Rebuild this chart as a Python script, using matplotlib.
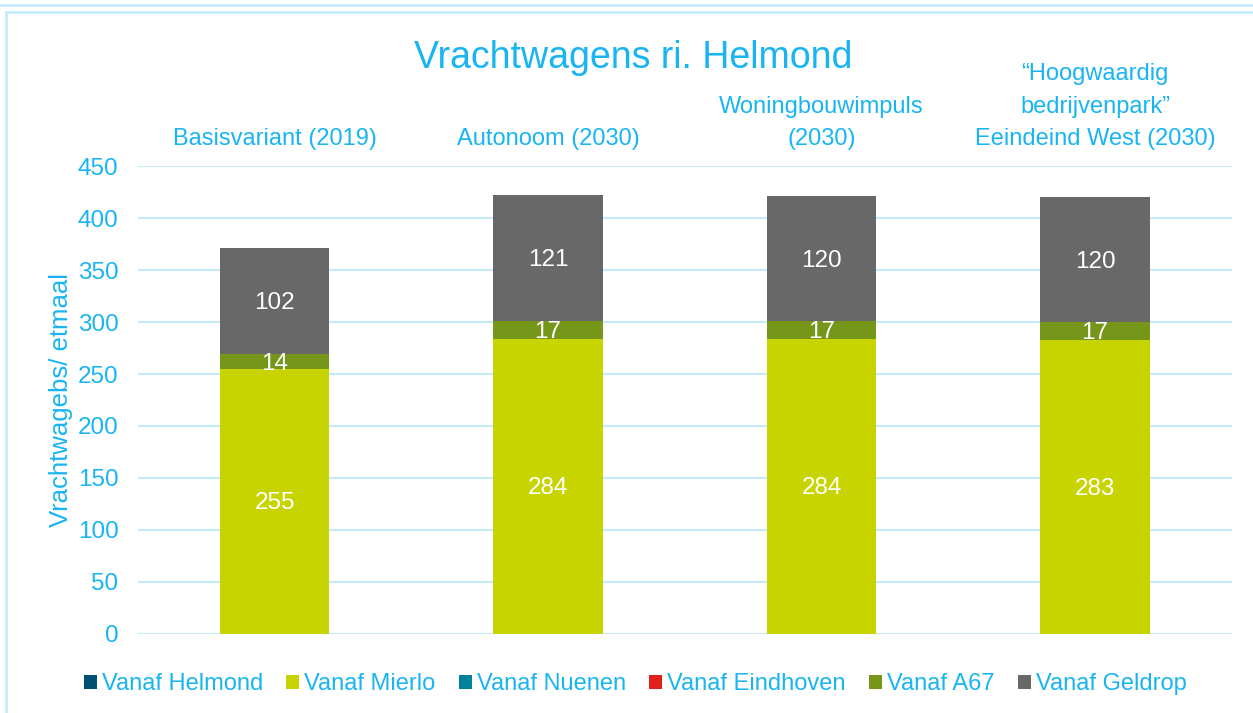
import matplotlib
matplotlib.use("Agg")
import matplotlib.pyplot as plt
from matplotlib.patches import Rectangle
import matplotlib.transforms as mtransforms
import numpy as np

plt.rcParams['font.family'] = ['Liberation Sans', 'DejaVu Sans']

categories = ["Basisvariant (2019)", "Autonoom (2030)", "Woningbouwimpuls\n(2030)",
              "\u201cHoogwaardig\nbedrijvenpark\u201d\nEeindeind West (2030)"]
series_names = ["Vanaf Helmond", "Vanaf Mierlo", "Vanaf Nuenen", "Vanaf Eindhoven", "Vanaf A67", "Vanaf Geldrop"]
helmond = [0, 0, 0, 0]
mierlo = [255, 284, 284, 283]
nuenen = [0, 0, 0, 0]
eindhoven = [0, 0, 0, 0]
a67 = [14, 17, 17, 17]
geldrop = [102, 121, 120, 120]
yticks = [0, 50, 100, 150, 200, 250, 300, 350, 400, 450]

series = [helmond, mierlo, nuenen, eindhoven, a67, geldrop]
colors = ["#004F71", "#C8D400", "#00829B", "#E3211C", "#76961A", "#686868"]
txt = "#19B4F2"
grid = "#C6EAFB"

fig = plt.figure(figsize=(12.53, 7.13), dpi=100)
ax = fig.add_axes([0.110, 0.111, 0.873, 0.656])

x = np.arange(len(categories))
bottom = np.zeros(len(categories))
handles = []
for name, vals, c in zip(series_names, series, colors):
    vals = np.array(vals, dtype=float)
    b = ax.bar(x, vals, 0.4, bottom=bottom, color=c, label=name, zorder=3)
    handles.append(b)
    if name in ("Vanaf Mierlo", "Vanaf A67", "Vanaf Geldrop"):
        for xi, v, bt in zip(x, vals, bottom):
            if v > 0:
                ax.text(xi, bt + v / 2 - 2, f"{int(v)}", ha='center', va='center',
                        color='white', fontsize=17.5, zorder=4)
    bottom += vals

ax.set_xlim(-0.5, len(categories) - 0.5)
ax.set_ylim(0, 450)
ax.set_yticks(yticks)
ax.yaxis.grid(True, color=grid, linewidth=1.5, zorder=0)
ax.set_axisbelow(True)
for s in ax.spines.values():
    s.set_visible(False)
ax.tick_params(axis='y', length=0, labelsize=17.5, labelcolor=txt, pad=14)
ax.tick_params(axis='x', length=0, labelbottom=False)
ax.set_ylabel("Vrachtwagebs/ etmaal", fontsize=18.5, color=txt, labelpad=3)

trans = mtransforms.blended_transform_factory(ax.transData, ax.transAxes)
for xi, lab in zip(x, categories):
    ax.text(xi, 1.035, lab, transform=trans, ha='center', va='bottom',
            fontsize=17, color=txt, linespacing=1.6)

fig.text(0.505, 0.918, "Vrachtwagens ri. Helmond", ha='center', va='center',
         fontsize=27, color=txt)

leg = fig.legend(handles=handles, labels=series_names, loc='center',
                 bbox_to_anchor=(0.507, 0.040), ncol=6, frameon=False,
                 fontsize=17, handlelength=0.55, handleheight=0.55,
                 handletextpad=0.2, columnspacing=1.0)
for t in leg.get_texts():
    t.set_color(txt)

# frame lines
fig.patches.append(Rectangle((0.005, -0.1), 1.2, 1.083, transform=fig.transFigure,
                             fill=False, edgecolor=grid, linewidth=2, zorder=0))
fig.lines.append(plt.Line2D([0, 1], [0.993, 0.993], transform=fig.transFigure,
                            color=grid, linewidth=2))

fig.savefig("out.png", dpi=100, facecolor='white')
